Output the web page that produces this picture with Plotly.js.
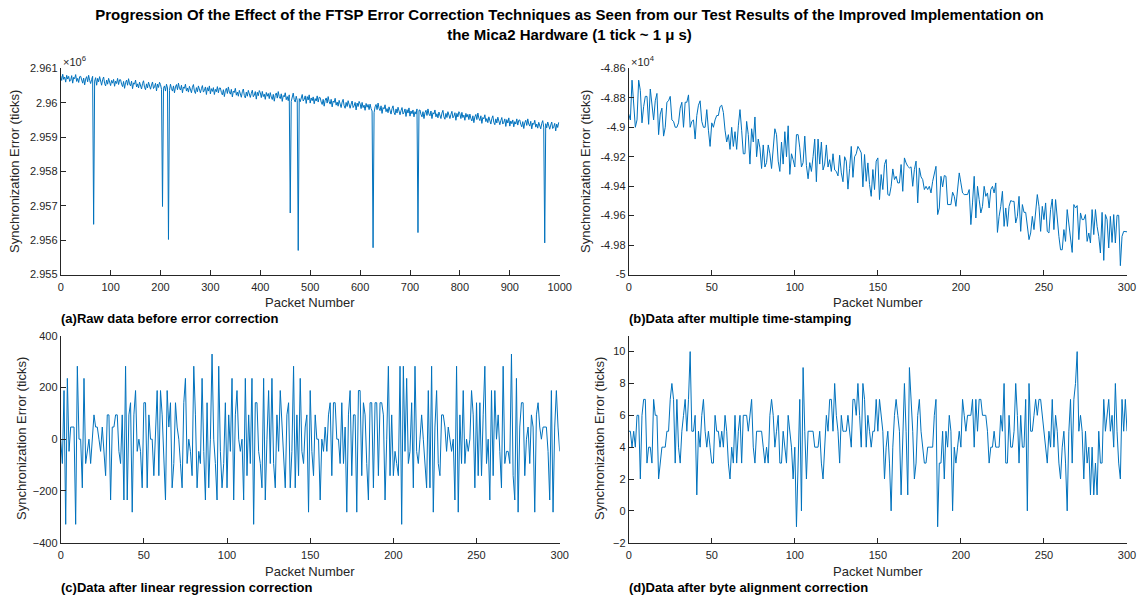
<!DOCTYPE html>
<html>
<head>
<meta charset="utf-8">
<script src="https://cdn.plot.ly/plotly-3.0.1.min.js"></script>
<style>html,body{margin:0;padding:0;background:#fff;}#chart{width:1139px;height:597px;}</style>
</head>
<body>
<div id="chart"></div>
<script>
// ---------------- DATA ----------------
const chartTitle = 'Progression Of the Effect of the FTSP Error Correction Techniques as Seen from our Test Results of the Improved Implementation on<br>the Mica2 Hardware (1 tick ~ 1 \u03bc s)';
const panelCaptions = ['(a)Raw data before error correction', '(b)Data after multiple time-stamping', '(c)Data after linear regression correction', '(d)Data after byte alignment correction'];
const xAxisLabel = 'Packet Number';
const yAxisLabel = 'Synchronization Error (ticks)';

// (a) raw data, one value every 2 packets (packets 0..998)
const rawPacketStep = 2;
const rawErrorTicks = [
2960790,2960650,2960830,2960680,2960750,2960600,2960800,2960690,2960770,2960620,
2960650,2960790,2960570,2960740,2960700,2960820,2960620,2960710,2960590,2960760,
2960770,2960640,2960570,2960720,2960520,2960690,2960760,2960610,2960800,2960650,
2960560,2960680,2960770,2956460,2960630,2960730,2960510,2960710,2960610,2960760,
2960630,2960510,2960670,2960750,2960560,2960490,2960660,2960540,2960710,2960590,
2960500,2960650,2960570,2960680,2960480,2960630,2960560,2960710,2960530,2960670,
2960670,2960540,2960470,2960620,2960420,2960590,2960660,2960510,2960700,2960550,
2960490,2960630,2960410,2960580,2960540,2960660,2960460,2960550,2960430,2960600,
2960520,2960400,2960560,2960640,2960450,2960380,2960550,2960430,2960600,2960480,
2960395,2960515,2960605,2960415,2960465,2960565,2960345,2960545,2960445,2960595,
2960530,2960390,2956980,2960420,2960490,2960340,2960540,2960430,2956020,2960360,
2960540,2960410,2960340,2960490,2960290,2960460,2960530,2960380,2960570,2960420,
2960370,2960510,2960290,2960460,2960420,2960540,2960340,2960430,2960310,2960480,
2960410,2960290,2960450,2960530,2960340,2960270,2960440,2960320,2960490,2960370,
2960290,2960410,2960500,2960310,2960360,2960460,2960240,2960440,2960340,2960490,
2960260,2960410,2960330,2960440,2960240,2960390,2960320,2960470,2960290,2960430,
2960430,2960300,2960230,2960380,2960180,2960350,2960420,2960270,2960460,2960310,
2960250,2960390,2960170,2960340,2960300,2960420,2960220,2960310,2960190,2960360,
2960280,2960160,2960320,2960400,2960210,2960140,2960310,2960190,2960360,2960240,
2960155,2960275,2960365,2960175,2960225,2960325,2960105,2960305,2960205,2960355,
2960290,2960150,2960330,2960180,2960250,2960100,2960300,2960190,2960270,2960120,
2960295,2960165,2960095,2960245,2960045,2960215,2960285,2960135,2960325,2960175,
2960120,2960260,2960040,2960210,2960170,2960290,2960090,2960180,2960060,2960230,
2956790,2960040,2960200,2960280,2960090,2960020,2960190,2960070,2955700,2960120,
2960030,2960150,2960240,2960050,2960100,2960200,2959980,2960180,2960080,2960230,
2959990,2960140,2960060,2960170,2959970,2960120,2960050,2960200,2960020,2960160,
2960150,2960020,2959950,2960100,2959900,2960070,2960140,2959990,2960180,2960030,
2959960,2960100,2959880,2960050,2960010,2960130,2959930,2960020,2959900,2960070,
2959980,2959860,2960020,2960100,2959910,2959840,2960010,2959890,2960060,2959940,
2959840,2959960,2960050,2959860,2959910,2960010,2959790,2959990,2959890,2960040,
2959970,2959830,2960010,2959860,2959930,2959780,2959980,2959870,2959950,2959800,
2959960,2959830,2959760,2955780,2959710,2959880,2959950,2959800,2959990,2959840,
2959770,2959910,2959690,2959860,2959820,2959940,2959740,2959830,2959710,2959880,
2959790,2959670,2959830,2959910,2959720,2959650,2959820,2959700,2959870,2959750,
2959650,2959770,2959860,2959670,2959720,2959820,2959600,2959800,2959700,2959850,
2959610,2959760,2959680,2959790,2959590,2959740,2959670,2959820,2956220,2959780,
2959790,2959660,2959590,2959740,2959540,2959710,2959780,2959630,2959820,2959670,
2959620,2959760,2959540,2959710,2959670,2959790,2959590,2959680,2959560,2959730,
2959660,2959540,2959700,2959780,2959590,2959520,2959690,2959570,2959740,2959620,
2959540,2959660,2959750,2959560,2959610,2959710,2959490,2959690,2959590,2959740,
2959680,2959540,2959720,2959570,2959640,2959490,2959690,2959580,2959660,2959510,
2959670,2959540,2959470,2959620,2959420,2959590,2959660,2959510,2959700,2959550,
2959480,2959620,2959400,2959570,2959530,2959650,2959450,2959540,2959420,2959590,
2959500,2959380,2959540,2959620,2959430,2959360,2959530,2959410,2959580,2959460,
2959360,2959480,2959570,2959380,2959430,2959530,2959310,2959510,2959410,2959560,
2959320,2959470,2959390,2959500,2959300,2959450,2959380,2959530,2959350,2959490,
2959500,2959370,2959300,2959450,2959250,2959420,2959490,2959340,2959530,2959380,
2959320,2959460,2959240,2959410,2959370,2959490,2959290,2959380,2959260,2959430,
2959360,2959240,2959400,2959480,2959290,2955920,2959390,2959270,2959440,2959320,
2959230,2959350,2959440,2959250,2959300,2959400,2959180,2959380,2959280,2959430
];

// (b) after multiple time-stamping, packets 0..300
const multiStampErrorTicks = [
-48910,-48950,-48680,-48870,-49000,-48950,-48680,-48750,-48970,-48860,
-48790,-48790,-48980,-48740,-48840,-48950,-48820,-48770,-49050,-48910,
-48870,-49060,-49000,-48830,-48820,-48790,-48950,-48960,-49000,-49000,
-48970,-48870,-48830,-49000,-48830,-48830,-48780,-49000,-48960,-48950,
-49080,-48920,-48850,-48820,-48960,-49000,-49000,-48880,-49020,-49130,
-48970,-49000,-48950,-48920,-48920,-48860,-48850,-48900,-49020,-49100,
-49050,-49150,-49000,-49130,-49030,-49150,-48990,-48880,-49020,-49180,
-49180,-48960,-49050,-49250,-49010,-49100,-48930,-49200,-49080,-49140,
-49280,-49120,-49270,-49240,-49120,-49180,-49280,-49160,-49010,-49050,
-49230,-49300,-49100,-49250,-49030,-49200,-48990,-49320,-49180,-49220,
-49270,-49050,-49050,-49140,-49270,-49240,-49060,-49260,-49350,-49240,
-49300,-49200,-49080,-49370,-49080,-49250,-49100,-49290,-49250,-49120,
-49270,-49220,-49300,-49180,-49290,-49300,-49330,-49190,-49310,-49370,
-49200,-49230,-49420,-49280,-49130,-49340,-49200,-49180,-49130,-49150,
-49174,-49405,-49185,-49367,-49242,-49389,-49469,-49287,-49423,-49230,
-49208,-49491,-49321,-49423,-49253,-49219,-49457,-49464,-49401,-49283,
-49355,-49333,-49378,-49378,-49253,-49435,-49208,-49242,-49265,-49276,
-49269,-49401,-49287,-49230,-49514,-49276,-49337,-49355,-49423,-49401,
-49423,-49401,-49446,-49367,-49310,-49265,-49593,-49548,-49333,-49405,
-49328,-49333,-49525,-49525,-49525,-49441,-49469,-49537,-49423,-49310,
-49378,-49446,-49457,-49457,-49457,-49423,-49661,-49514,-49333,-49616,
-49401,-49491,-49582,-49537,-49401,-49469,-49446,-49548,-49423,-49401,
-49446,-49378,-49714,-49605,-49537,-49435,-49673,-49548,-49673,-49537,
-49498,-49503,-49503,-49650,-49605,-49469,-49707,-49525,-49578,-49578,
-49661,-49763,-49718,-49605,-49695,-49548,-49457,-49537,-49707,-49537,
-49627,-49514,-49707,-49718,-49559,-49487,-49695,-49491,-49627,-49741,
-49832,-49832,-49695,-49775,-49559,-49650,-49741,-49850,-49525,-49548,
-49532,-49763,-49582,-49627,-49627,-49593,-49775,-49718,-49786,-49559,
-49729,-49559,-49673,-49741,-49854,-49578,-49904,-49593,-49627,-49820,
-49605,-49782,-49593,-49786,-49598,-49598,-49940,-49741,-49707,-49707,
-49710
];

// (c) after linear regression correction, packets 0..300
const regressionErrorTicks = [
0,-94,188,-329,235,-47,47,47,47,-329,
282,0,0,-188,235,-94,-47,0,-94,0,
94,47,47,0,-47,47,-47,-141,94,94,
-235,47,47,94,94,-47,-94,94,-235,282,
-235,94,141,-282,94,188,-47,0,-47,-188,
141,141,-188,94,0,0,-141,47,188,-141,
188,94,-47,-235,188,47,141,-188,-94,141,
47,0,-94,-188,141,235,-94,0,-47,-141,
282,94,-188,-47,-94,235,-47,-235,141,-188,
0,329,0,-94,-235,282,-47,-188,-94,141,
-188,94,-47,235,-235,94,188,0,-47,0,
-235,235,-141,94,-94,235,-329,141,141,-47,
-94,-188,235,-235,0,188,-94,235,-94,-188,
94,-47,188,47,-47,-188,94,141,-188,-47,
282,-188,94,-141,235,-47,-94,47,94,-282,
188,-47,-141,94,0,0,-235,0,-47,47,
-47,94,141,-141,141,141,0,0,-94,141,
-94,47,-282,94,188,-141,94,94,-282,188,
188,-141,141,94,-94,-235,141,141,-188,141,
141,-141,141,141,94,-235,0,282,-141,94,
-141,-47,-94,-141,282,-329,282,-47,235,-94,
-47,141,-188,282,-47,-94,0,94,0,-94,
-188,188,-188,282,-282,47,188,-94,-141,94,
94,47,-47,47,0,-47,0,-235,282,-282,
94,-94,188,-94,0,-47,0,188,94,-188,
141,-141,141,-141,94,282,-94,0,-235,188,
-141,188,0,94,-47,-188,282,-94,-47,-47,
-94,329,-141,-235,235,-282,47,141,141,-141,
0,47,-94,94,47,-282,94,141,47,0,
47,47,47,-47,-235,188,-282,47,188,47,
-47
];

// (d) after byte alignment correction, packets 0..300
const byteAlignErrorTicks = [
5,5,4,5,4,6,6,2,6,7,
7,3,4,4,3,7,6,6,2,3,
4,4,4,5,5,7,8,7,3,7,
4,3,5,6,7,5,7,10,5,5,
6,1,5,4,6,7,5,4,5,4,
3,3,6,5,5,4,5,4,6,5,
3,2,4,3,6,3,5,6,3,6,
6,6,5,6,7,4,3,5,5,5,
5,4,3,4,3,6,7,6,4,5,
6,3,3,5,4,3,6,5,4,2,
4,-1,3,7,0,9,5,2,5,5,
5,5,4,4,4,5,3,2,4,6,
5,7,7,5,8,6,5,3,6,5,
5,5,6,5,4,7,7,6,8,6,
4,8,7,4,6,5,4,5,5,7,
5,7,6,5,2,4,5,3,0,4,
6,7,6,5,1,5,8,5,1,9,
7,5,2,3,6,7,5,4,3,3,
4,4,4,4,6,7,-1,3,3,5,
2,5,4,6,5,0,4,3,4,5,
4,7,6,5,6,6,6,7,4,7,
5,7,7,6,6,6,5,3,4,4,
5,4,4,4,6,5,8,3,3,6,
4,4,5,8,6,3,6,4,4,7,
0,8,5,5,6,7,6,7,7,6,
5,4,3,5,4,7,4,6,5,3,
2,4,5,3,0,5,7,3,7,8,
10,5,6,5,2,5,3,4,1,4,
1,3,1,5,3,3,7,5,6,7,
5,6,4,8,5,3,2,7,5,7,
5
];

// tick values / labels
const xTicksRaw = [0,100,200,300,400,500,600,700,800,900,1000];
const xTicks300 = [0,50,100,150,200,250,300];
const aYTickVals = [2955000,2956000,2957000,2958000,2959000,2960000,2961000];
const aYTickText = ['2.955','2.956','2.957','2.958','2.959','2.96','2.961'];
const bYTickVals = [-50000,-49800,-49600,-49400,-49200,-49000,-48800,-48600];
const bYTickText = ['-5','-4.98','-4.96','-4.94','-4.92','-4.9','-4.88','-4.86'];
const cYTickVals = [-400,-200,0,200,400];
const dYTickVals = [-2,0,2,4,6,8,10];
const aExponent = '\u00d710<sup>6</sup>';
const bExponent = '\u00d710<sup>4</sup>';

// ---------------- STYLE / LAYOUT ----------------
const W = 1139, H = 597;
const FONT = 'Liberation Sans, Arial, Helvetica, sans-serif';
const AX = '#262626';
const LINE = '#0072BD';
const px = v => v / W;
const py = v => 1 - v / H;

const leftDom = [px(60.7), px(559.7)];
const rightDom = [px(628.7), px(1127)];
const topDom = [py(274.5), py(68.4)];
const botDom = [py(542.7), py(335.7)];

function axis(extra) {
  return Object.assign({
    showline: true, linecolor: AX, linewidth: 1, mirror: false,
    ticks: 'inside', ticklen: 5, tickwidth: 1, tickcolor: AX,
    showgrid: false, zeroline: false, fixedrange: true,
    tickfont: {family: FONT, size: 11, color: AX},
    tickmode: 'array', automargin: false
  }, extra);
}

const traces = [
  {x0: 0, dx: rawPacketStep, y: rawErrorTicks, xaxis: 'x', yaxis: 'y'},
  {x0: 0, dx: 1, y: multiStampErrorTicks, xaxis: 'x2', yaxis: 'y2'},
  {x0: 0, dx: 1, y: regressionErrorTicks, xaxis: 'x3', yaxis: 'y3'},
  {x0: 0, dx: 1, y: byteAlignErrorTicks, xaxis: 'x4', yaxis: 'y4'}
].map(t => Object.assign(t, {type: 'scatter', mode: 'lines', line: {color: LINE, width: 1}, hoverinfo: 'skip'}));

function ann(text, x, y, opts) {
  return Object.assign({text: text, x: px(x), y: py(y), xref: 'paper', yref: 'paper', showarrow: false,
    font: {family: FONT, size: 13, color: AX}, xanchor: 'center', yanchor: 'middle'}, opts || {});
}

const capFont = {family: FONT, size: 13, color: '#000'};
const annotations = [
  ann(xAxisLabel, 310, 302), ann(xAxisLabel, 878, 302),
  ann(xAxisLabel, 310, 571), ann(xAxisLabel, 878, 571),
  ann(yAxisLabel, 14, 172, {textangle: -90}), ann(yAxisLabel, 585, 172, {textangle: -90}),
  ann(yAxisLabel, 21, 439, {textangle: -90}), ann(yAxisLabel, 599, 439, {textangle: -90}),
  ann('<b>' + panelCaptions[0] + '</b>', 59, 318, {xanchor: 'left', font: capFont}),
  ann('<b>' + panelCaptions[1] + '</b>', 627, 318, {xanchor: 'left', font: capFont}),
  ann('<b>' + panelCaptions[2] + '</b>', 59, 587, {xanchor: 'left', font: capFont}),
  ann('<b>' + panelCaptions[3] + '</b>', 627, 587, {xanchor: 'left', font: capFont}),
  ann(aExponent, 61, 61, {xanchor: 'left', font: {family: FONT, size: 11, color: AX}}),
  ann(bExponent, 629, 61, {xanchor: 'left', font: {family: FONT, size: 11, color: AX}})
];

const layout = {
  width: W, height: H, margin: {l: 0, r: 0, t: 0, b: 0},
  paper_bgcolor: '#ffffff', plot_bgcolor: '#ffffff', showlegend: false,
  title: {text: '<b>' + chartTitle + '</b>', font: {family: FONT, size: 15, color: '#000'},
          x: 0.5, xanchor: 'center', xref: 'paper', y: 1 - 20 / H, yanchor: 'top', yref: 'container'},
  xaxis: axis({domain: leftDom, anchor: 'y', range: [0, 1000], tickvals: xTicksRaw, ticklabelstandoff: 2}),
  yaxis: axis({domain: topDom, anchor: 'x', range: [2955000, 2961000], tickvals: aYTickVals, ticktext: aYTickText}),
  xaxis2: axis({domain: rightDom, anchor: 'y2', range: [0, 300], tickvals: xTicks300, ticklabelstandoff: 2}),
  yaxis2: axis({domain: topDom, anchor: 'x2', range: [-50000, -48600], tickvals: bYTickVals, ticktext: bYTickText}),
  xaxis3: axis({domain: leftDom, anchor: 'y3', range: [0, 300], tickvals: xTicks300, ticklabelstandoff: 2}),
  yaxis3: axis({domain: botDom, anchor: 'x3', range: [-400, 400], tickvals: cYTickVals}),
  xaxis4: axis({domain: rightDom, anchor: 'y4', range: [0, 300], tickvals: xTicks300, ticklabelstandoff: 2}),
  yaxis4: axis({domain: botDom, anchor: 'x4', range: [-2, 11], tickvals: dYTickVals}),
  annotations: annotations
};

Plotly.newPlot('chart', traces, layout, {staticPlot: true, displayModeBar: false});
</script>
</body>
</html>
